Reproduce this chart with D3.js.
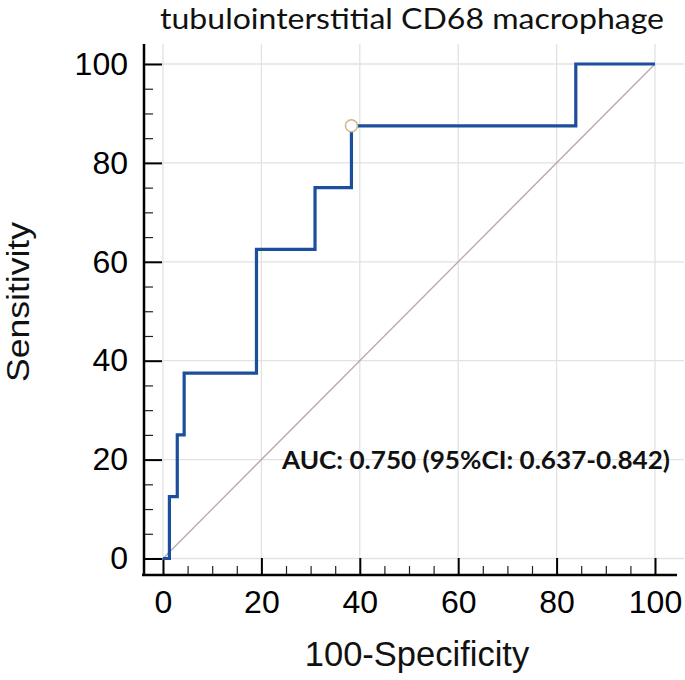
<!DOCTYPE html>
<html lang="en">
<head>
<meta charset="UTF-8">
<title>ROC curve</title>
<script src="https://cdn.jsdelivr.net/npm/d3@7"></script>
<style>
  body { margin: 0; background: #fff; }
</style>
</head>
<body>
<script>
// ROC points (100-Specificity, Sensitivity)
const fprValues  = [0, 1.3, 2.9, 4.3, 19.0, 30.9, 38.3, 83.9, 100]
const sensValues = [0, 12.5, 25, 37.5, 62.5, 75, 87.5, 100, 100]
const cutoffIndex = 6
const majorTicks = [0, 20, 40, 60, 80, 100]
const minorTicks = d3.range(0, 101, 5).filter(v => v % 20 !== 0)
const diagonal = [0, 100]

const titleText = "tubulointerstitial CD68 macrophage"
const aucText = "AUC: 0.750 (95%CI: 0.637-0.842)"

const width = 685, height = 680
const svg = d3.select("body").append("svg").attr("width", width).attr("height", height)

const x = d3.scaleLinear().domain([0, 100]).range([163, 655])
const y = d3.scaleLinear().domain([0, 100]).range([558.5, 64])

const axisX = 144, axisY = 575
const gridTop = 44, gridRight = 684

// gridlines
svg.append("g").selectAll("line").data(majorTicks).enter().append("line")
  .attr("x1", d => x(d)).attr("x2", d => x(d))
  .attr("y1", gridTop).attr("y2", axisY)
  .attr("stroke", "#e2e2e2").attr("stroke-width", 1.3)
svg.append("g").selectAll("line").data(majorTicks).enter().append("line")
  .attr("x1", axisX).attr("x2", gridRight)
  .attr("y1", d => y(d)).attr("y2", d => y(d))
  .attr("stroke", "#e2e2e2").attr("stroke-width", 1.3)

// reference diagonal
svg.append("line")
  .attr("x1", x(diagonal[0])).attr("y1", y(diagonal[0]))
  .attr("x2", x(diagonal[1])).attr("y2", y(diagonal[1]))
  .attr("stroke", "#bba6ad").attr("stroke-width", 1.3)

// axes
const fontTicks = "'Liberation Sans', Arial, sans-serif"
const xMajor = svg.append("g").attr("transform", `translate(0,${axisY})`)
  .call(d3.axisBottom(x).tickValues(majorTicks).tickSize(-17).tickPadding(15))
const xMinor = svg.append("g").attr("transform", `translate(0,${axisY})`)
  .call(d3.axisBottom(x).tickValues(minorTicks).tickSize(-9).tickFormat(""))
const yMajor = svg.append("g").attr("transform", `translate(${axisX},0)`)
  .call(d3.axisLeft(y).tickValues(majorTicks).tickSize(-18).tickPadding(16))
const yMinor = svg.append("g").attr("transform", `translate(${axisX},0)`)
  .call(d3.axisLeft(y).tickValues(minorTicks).tickSize(-9).tickFormat(""))

;[xMajor, xMinor, yMajor, yMinor].forEach(g => g.select(".domain").remove())
;[xMajor, yMajor].forEach(g => {
  g.selectAll(".tick line").attr("stroke", "#000").attr("stroke-width", 2)
  g.selectAll(".tick text").attr("font-family", fontTicks).attr("font-size", 32).attr("fill", "#000")
})
;[xMinor, yMinor].forEach(g => g.selectAll(".tick line").attr("stroke", "#222").attr("stroke-width", 1.2))

// axis lines, offset from the data area
svg.append("line").attr("x1", axisX).attr("x2", axisX).attr("y1", gridTop).attr("y2", axisY + 1)
  .attr("stroke", "#000").attr("stroke-width", 2.5)
svg.append("line").attr("x1", 142).attr("x2", 677).attr("y1", axisY).attr("y2", axisY)
  .attr("stroke", "#000").attr("stroke-width", 2.5)

// ROC step line
const rocData = fprValues.map((v, i) => ({fpr: v, sens: sensValues[i]}))
const line = d3.line().x(d => x(d.fpr)).y(d => y(d.sens)).curve(d3.curveStepAfter)
svg.append("path").datum(rocData)
  .attr("d", line)
  .attr("fill", "none")
  .attr("stroke", "#1b4f9b")
  .attr("stroke-width", 3.2)
  .attr("stroke-linejoin", "miter")

// optimal cutoff marker
svg.append("circle")
  .attr("cx", x(fprValues[cutoffIndex]))
  .attr("cy", y(sensValues[cutoffIndex]))
  .attr("r", 6)
  .attr("fill", "#fff")
  .attr("stroke", "#d2b485")
  .attr("stroke-width", 1.5)

// texts
svg.append("text")
  .attr("x", 412).attr("y", 29)
  .attr("text-anchor", "middle")
  .attr("font-family", "Lato, 'Open Sans', sans-serif")
  .attr("font-size", 28)
  .attr("textLength", 504).attr("lengthAdjust", "spacingAndGlyphs")
  .attr("fill", "#111")
  .text(titleText)

svg.append("text")
  .attr("x", 282).attr("y", 469)
  .attr("font-family", "Lato, 'Open Sans', sans-serif")
  .attr("font-weight", "bold")
  .attr("font-size", 25.5)
  .attr("textLength", 388).attr("lengthAdjust", "spacingAndGlyphs")
  .attr("fill", "#111")
  .text(aucText)

svg.append("text")
  .attr("x", 417).attr("y", 666)
  .attr("text-anchor", "middle")
  .attr("font-family", fontTicks)
  .attr("font-size", 34.5)
  .attr("fill", "#111")
  .text("100-Specificity")

svg.append("text")
  .attr("transform", "translate(29,302) rotate(-90)")
  .attr("text-anchor", "middle")
  .attr("font-family", fontTicks)
  .attr("font-size", 32)
  .attr("textLength", 160).attr("lengthAdjust", "spacingAndGlyphs")
  .attr("fill", "#111")
  .text("Sensitivity")
</script>
</body>
</html>
